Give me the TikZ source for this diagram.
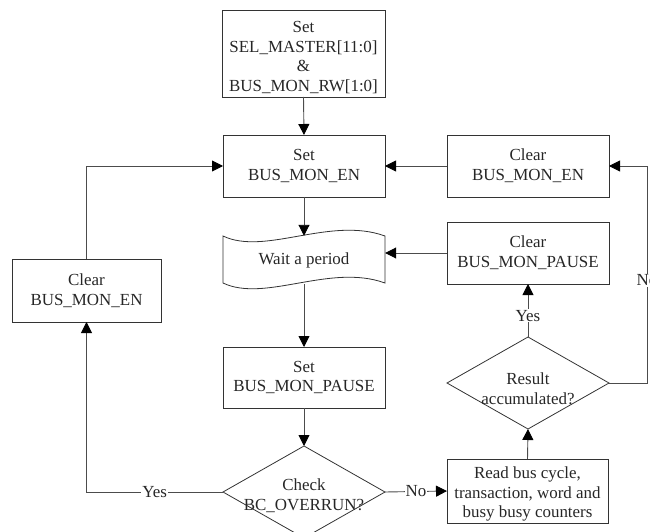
\documentclass[tikz,border=0pt]{standalone}
\usepackage{fontspec}
\setmainfont{Liberation Serif}
\usetikzlibrary{shapes.geometric,arrows.meta}
\begin{document}
\begin{tikzpicture}[x=1bp,y=-1bp,
  every node/.style={font=\fontsize{17}{20}\selectfont, text=black!85},
  box/.style={draw=black!80, line width=0.8bp, align=center, inner sep=0pt, outer sep=0pt},
  dia/.style={draw=black!80, diamond, line width=0.8bp, inner sep=0pt, outer sep=0pt, minimum width=162bp, minimum height=92bp},
  txt/.style={align=center, inner sep=0pt},
  flow/.style={draw=black!70, line width=0.9bp, -{Triangle[length=11bp,width=11bp,color=black]}},
  plain/.style={draw=black!80, line width=0.8bp},
  lbl/.style={fill=white, inner sep=1bp}]
\useasboundingbox (0,0) rectangle (650,532);
\clip (0,0) rectangle (650,532);

% boxes
\node[box, minimum width=163bp, minimum height=87bp] (top) at (303.5,53.5) {};
\node[txt] (topT) at (303.5,57.5) {Set\\SEL\_MASTER[11:0]\\\&\\BUS\_MON\_RW[1:0]};
\node[box, minimum width=162bp, minimum height=62bp] (setEN) at (304,166) {Set\\BUS\_MON\_EN};
\node[box, minimum width=162bp, minimum height=62bp] (clrEN) at (528,166) {Clear\\BUS\_MON\_EN};
\node[txt, minimum width=162bp, minimum height=48bp] (wait) at (304,260) {Wait a period};
\draw[plain] (223,236) .. controls (265,256) and (330,216) .. (385,236) -- (385,283)
  .. controls (330,263) and (265,303) .. (223,283) -- cycle;
\node[box, minimum width=162bp, minimum height=62bp] (clrPAUSE) at (528,253) {Clear\\BUS\_MON\_PAUSE};
\node[box, minimum width=162bp, minimum height=61bp] (setPAUSE) at (304,377.5) {Set\\BUS\_MON\_PAUSE};
\node[box, minimum width=149bp, minimum height=63bp] (clrEN2) at (86.5,290.5) {Clear\\BUS\_MON\_EN};
\node[box, minimum width=161bp, minimum height=64bp] (read) at (527.5,491) {};
\node[txt] (readT) at (527.5,494) {Read bus cycle,\\transaction, word and\\busy busy counters};

% diamonds
\node[dia] (check) at (304,492) {};
\node[txt] (checkT) at (304,496) {Check\\BC\_OVERRUN?};
\node[dia] (result) at (528,383) {};
\node[txt] (resultT) at (528,389) {Result\\accumulated?};

\coordinate (rc) at (647,383);

% connectors
\draw[flow] (top.south) -- (setEN.north);
\draw[flow] (clrEN.west) -- (setEN.east);
\draw[flow] (setEN.south) -- (wait.north);
\draw[flow] (clrPAUSE.west) -- (clrPAUSE.west -| wait.east);
\draw[flow] (wait.south) -- (setPAUSE.north);
\draw[flow] (setPAUSE.south) -- (check.north);
\draw[flow] (check.east) -- node[lbl] {No} (read.west);
\draw[flow] (check.west) -| node[lbl, pos=0.25] {Yes} (clrEN2.south);
\draw[flow] (clrEN2.north) |- (setEN.west);
\draw[flow] (read.north) -- (result.south);
\draw[flow] (result.north) -- node[lbl, pos=0.4] {Yes} (clrPAUSE.south);
\draw[flow] (result.east) -- (rc) |- node[lbl, pos=0.237] {No} (clrEN.east);
\end{tikzpicture}
\end{document}
